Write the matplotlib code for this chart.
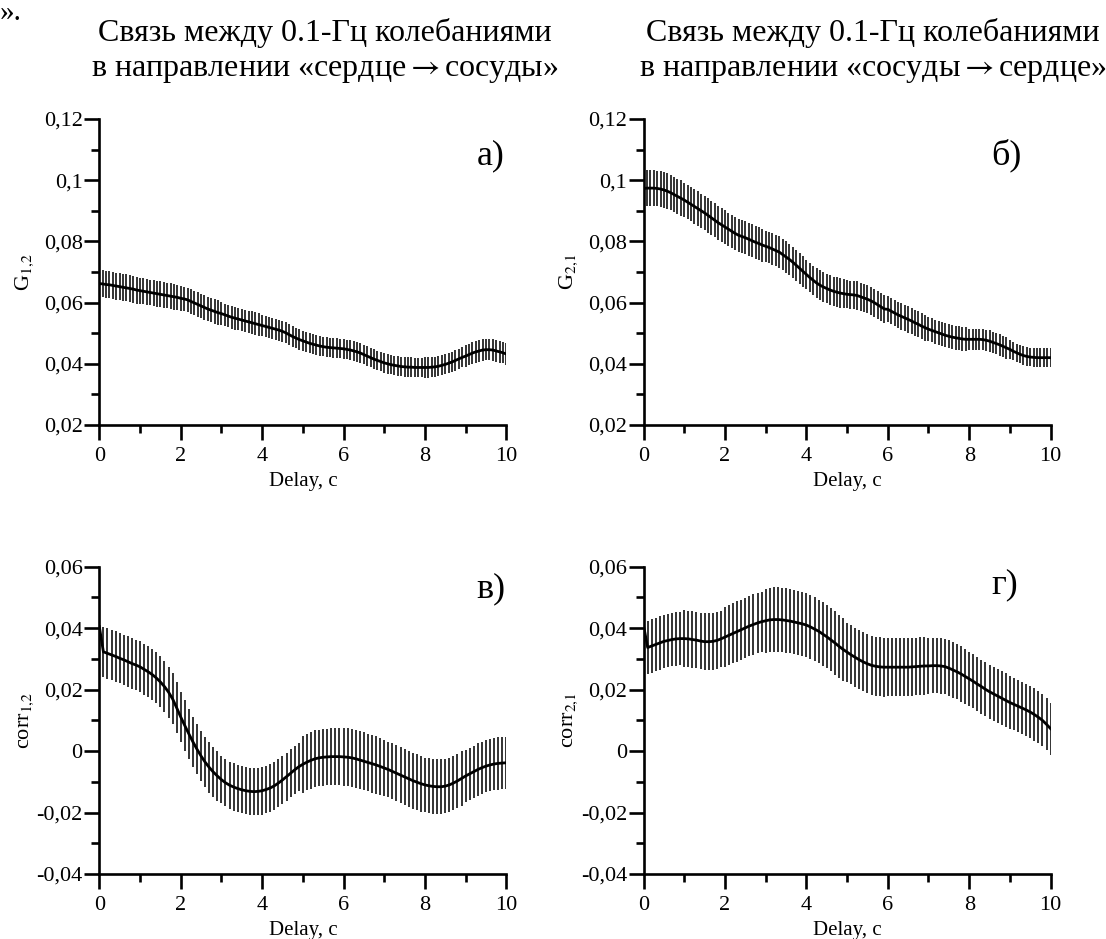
import numpy as np
import matplotlib.pyplot as plt
from matplotlib.ticker import MultipleLocator

plt.rcParams['font.family'] = ['Liberation Serif', 'DejaVu Serif']
plt.rcParams['mathtext.fontset'] = 'stix'

# top panels sampled 12 per second, bottom panels 10 per second
t_top = np.arange(121) / 12
t_bot = np.arange(101) / 10

# а) G_1,2
g12 = [
    .0662, .0661, .0659, .0658, .0656, .0654, .0652, .0650, .0648, .0646, .0644, .0641,
    .0639, .0637, .0635, .0633, .0631, .0629, .0627, .0625, .0623, .0621, .0619, .0617,
    .0614, .0612, .0609, .0604, .0599, .0594, .0589, .0584, .0579, .0575, .0571, .0567,
    .0564, .0560, .0556, .0552, .0549, .0546, .0543, .0540, .0537, .0534, .0531, .0528,
    .0525, .0522, .0519, .0516, .0513, .0510, .0506, .0501, .0495, .0489, .0484, .0479,
    .0475, .0471, .0467, .0464, .0461, .0458, .0456, .0454, .0453, .0452, .0451, .0450,
    .0449, .0447, .0445, .0442, .0439, .0435, .0430, .0425, .0420, .0415, .0411, .0407,
    .0403, .0400, .0397, .0395, .0393, .0391, .0390, .0389, .0389, .0388, .0388, .0388,
    .0388, .0388, .0389, .0390, .0392, .0395, .0398, .0402, .0406, .0411, .0416, .0421,
    .0425, .0430, .0435, .0439, .0442, .0445, .0446, .0446, .0445, .0442, .0439, .0436,
    .0432,
]
g12_err_sec = [0.0044, 0.0042, 0.0040, 0.0037, 0.0034, 0.0032, 0.0032, 0.0032, 0.0033, 0.0035]

# б) G_2,1
g21 = [
    .0973, .0974, .0974, .0974, .0973, .0971, .0968, .0964, .0959, .0953, .0947, .0941,
    .0935, .0928, .0921, .0914, .0907, .0900, .0893, .0885, .0877, .0869, .0861, .0854,
    .0847, .0840, .0833, .0826, .0820, .0816, .0812, .0807, .0802, .0797, .0793, .0788,
    .0784, .0780, .0775, .0770, .0765, .0757, .0749, .0741, .0732, .0722, .0712, .0702,
    .0692, .0682, .0673, .0664, .0657, .0651, .0646, .0641, .0637, .0634, .0631, .0629,
    .0627, .0626, .0625, .0623, .0619, .0615, .0611, .0606, .0600, .0593, .0586, .0579,
    .0578, .0572, .0566, .0560, .0555, .0550, .0545, .0540, .0534, .0529, .0523, .0518,
    .0513, .0509, .0505, .0501, .0497, .0493, .0490, .0487, .0485, .0483, .0481, .0480,
    .0480, .0480, .0480, .0480, .0479, .0477, .0474, .0470, .0466, .0462, .0457, .0452,
    .0447, .0441, .0436, .0431, .0427, .0424, .0422, .0421, .0420, .0420, .0420, .0420,
    .0420,
]
g21_err_sec = [0.0058, 0.0056, 0.0054, 0.0051, 0.0048, 0.0046, 0.0043, 0.0039, 0.0035, 0.0030]

# в) corr_1,2
corr12 = [
    .0405, .0323, .0318, .0313, .0308, .0302, .0297, .0291, .0285, .0280,
    .0274, .0266, .0258, .0249, .0238, .0225, .0210, .0192, .0170, .0141,
    .0111, .0083, .0056, .0030, .0006, -.0016, -.0036, -.0053, -.0068, -.0081,
    -.0093, -.0103, -.0111, -.0117, -.0122, -.0126, -.0129, -.0131, -.0132, -.0131,
    -.0129, -.0125, -.0120, -.0113, -.0104, -.0094, -.0083, -.0072, -.0061, -.0051,
    -.0043, -.0036, -.0030, -.0025, -.0022, -.0020, -.0019, -.0018, -.0018, -.0018,
    -.0019, -.0020, -.0022, -.0025, -.0029, -.0033, -.0037, -.0041, -.0045, -.0050,
    -.0055, -.0060, -.0066, -.0072, -.0078, -.0084, -.0090, -.0096, -.0101, -.0106,
    -.0110, -.0113, -.0115, -.0116, -.0116, -.0114, -.0110, -.0104, -.0097, -.0089,
    -.0081, -.0074, -.0067, -.0060, -.0054, -.0049, -.0045, -.0042, -.0040, -.0039,
    -.0038,
]
corr12_err_sec = [0.0082, 0.0083, 0.0082, 0.0077, 0.0078, 0.0092, 0.0094, 0.0091, 0.0089, 0.0085]

# г) corr_2,1
corr21 = [
    .0408, .0337, .0342, .0347, .0352, .0357, .0360, .0363, .0365, .0366,
    .0366, .0365, .0363, .0361, .0358, .0356, .0356, .0357, .0360, .0365,
    .0371, .0377, .0383, .0389, .0395, .0401, .0407, .0412, .0417, .0421,
    .0424, .0427, .0428, .0428, .0427, .0425, .0423, .0420, .0417, .0414,
    .0410, .0404, .0397, .0390, .0381, .0372, .0362, .0352, .0341, .0331,
    .0322, .0313, .0305, .0297, .0290, .0284, .0279, .0276, .0274, .0273,
    .0273, .0273, .0273, .0273, .0273, .0273, .0274, .0275, .0276, .0277,
    .0277, .0278, .0278, .0277, .0275, .0270, .0264, .0258, .0251, .0243,
    .0235, .0227, .0218, .0210, .0201, .0193, .0186, .0179, .0172, .0165,
    .0158, .0152, .0146, .0140, .0134, .0127, .0119, .0110, .0100, .0087,
    .0073,
]
corr21_err_sec = [0.0087, 0.0092, 0.0098, 0.0105, 0.0103, 0.0096, 0.0094, 0.0090, 0.0088, 0.0085]

titles = ['Связь между 0.1-Гц колебаниями\nв направлении «сердце$\\rightarrow$сосуды»',
          'Связь между 0.1-Гц колебаниями\nв направлении «сосуды$\\rightarrow$сердце»']

yticks_top = [0.02, 0.04, 0.06, 0.08, 0.1, 0.12]
ylabels_top = ['0,02', '0,04', '0,06', '0,08', '0,1', '0,12']
yticks_bot = [-0.04, -0.02, 0, 0.02, 0.04, 0.06]
ylabels_bot = ['-0,04', '-0,02', '0', '0,02', '0,04', '0,06']
xticks = [0, 2, 4, 6, 8, 10]


def per_point(err_sec, per_sec):
    # one error value per second of delay, held over that second's samples
    return np.append(np.repeat(err_sec, per_sec), err_sec[-1])


fig = plt.figure(figsize=(11.06, 9.39), dpi=100)

panels = [
    # rect, t, mean, err, ylim, ticks, ticklabels, ylabel, letter, letter pos
    ([0.0898, 0.5474, 0.368, 0.3259], t_top, g12, per_point(g12_err_sec, 12),
     (0.02, 0.12), yticks_top, ylabels_top, r'G$_{1{,}2}$', 'а)', (0.997, 0.88)),
    ([0.5819, 0.5474, 0.368, 0.3259], t_top, g21, per_point(g21_err_sec, 12),
     (0.02, 0.12), yticks_top, ylabels_top, r'G$_{2{,}1}$', 'б)', (0.929, 0.88)),
    ([0.0898, 0.0692, 0.368, 0.3273], t_bot, corr12, per_point(corr12_err_sec, 10),
     (-0.04, 0.06), yticks_bot, ylabels_bot, r'corr$_{1{,}2}$', 'в)', (0.997, 0.928)),
    ([0.5819, 0.0692, 0.368, 0.3273], t_bot, corr21, per_point(corr21_err_sec, 10),
     (-0.04, 0.06), yticks_bot, ylabels_bot, r'corr$_{2{,}1}$', 'г)', (0.92, 0.94)),
]

for rect, t, mean, err, ylim, yt, ytl, ylab, letter, lpos in panels:
    ax = fig.add_axes(rect)
    mean = np.asarray(mean)
    # the first (t=0) sample has no error bar in the original
    ax.errorbar(t[1:], mean[1:], yerr=err[1:], fmt='none', ecolor='#111111',
                elinewidth=1.2, capsize=0, zorder=2)
    ax.plot(t, mean, color='black', lw=2.0, zorder=3)

    ax.set_xlim(0, 10)
    ax.set_ylim(*ylim)
    ax.set_xticks(xticks)
    ax.set_xticklabels([str(x) for x in xticks])
    ax.set_yticks(yt)
    ax.set_yticklabels(ytl)
    ax.xaxis.set_minor_locator(MultipleLocator(1))
    ax.yaxis.set_minor_locator(MultipleLocator(0.01))

    for side in ['top', 'right']:
        ax.spines[side].set_visible(False)
    for side in ['left', 'bottom']:
        ax.spines[side].set_linewidth(1.9)
    ax.tick_params(which='major', direction='out', length=11, width=1.9, labelsize=16)
    ax.tick_params(which='minor', direction='out', length=6, width=1.9)
    ax.tick_params(axis='y', which='major', pad=1)
    ax.tick_params(axis='x', which='major', pad=5)

    ax.set_xlabel('Delay, c', fontsize=15, labelpad=4)
    ax.set_ylabel(ylab, fontsize=16)
    ax.yaxis.set_label_coords(-0.155, 0.5)
    ax.text(lpos[0], lpos[1], letter, transform=ax.transAxes, ha='right',
            va='center', fontsize=26)

fig.text(0.2935, 0.945, titles[0], ha='center', va='center', fontsize=23,
         linespacing=1.3)
fig.text(0.789, 0.945, titles[1], ha='center', va='center', fontsize=23,
         linespacing=1.3)
fig.text(0.0, 1.0, '».', ha='left', va='top', fontsize=21)

fig.savefig('out.png', dpi=100)
